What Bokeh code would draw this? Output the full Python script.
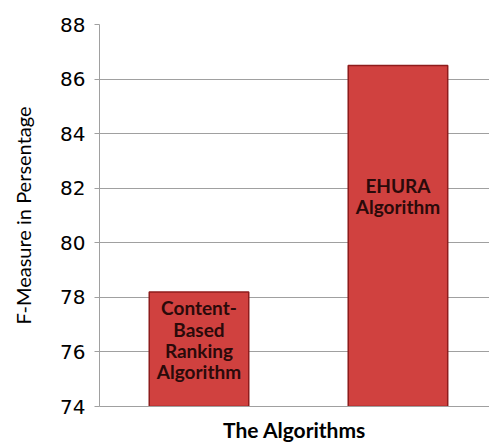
from bokeh.plotting import figure
from bokeh.models import Range1d, FixedTicker, ColumnDataSource
from bokeh.core.properties import value
from bokeh.embed import file_html
from bokeh.resources import INLINE
import numpy as np

categories = ["Content-Based Ranking Algorithm", "EHURA Algorithm"]
bar_labels = ["Content-\nBased\nRanking\nAlgorithm", "EHURA\nAlgorithm"]
f_measure = [78.2, 86.5]
label_y = [76.45, 81.7]
y_ticks = [74, 76, 78, 80, 82, 84, 86, 88]

x_pos = np.arange(len(categories)) + 0.5

src = ColumnDataSource(dict(x=x_pos, top=f_measure, cat=categories,
                            lab=bar_labels, ly=label_y))

p = figure(width=489, height=444, output_backend="svg", toolbar_location=None,
           x_range=Range1d(0.0, 1.96), y_range=Range1d(74, 88),
           min_border_left=99, min_border_top=24, min_border_right=0,
           min_border_bottom=36)
p.outline_line_color = None
p.background_fill_color = "white"

p.vbar(x="x", top="top", bottom=74, width=0.5, source=src,
       fill_color="#D0413F", line_color="#8E1C1C", line_width=1.5)

p.text(x="x", y="ly", text="lab", source=src, text_align="center",
       text_baseline="middle", text_font=value("Lato"), text_font_style="bold",
       text_font_size="19px", text_color="#2a0a0a", text_line_height=0.92)

p.yaxis.ticker = FixedTicker(ticks=y_ticks)
p.yaxis.major_tick_in = 0
p.yaxis.major_tick_out = 5
p.yaxis.minor_tick_line_color = None
p.yaxis.axis_line_color = "#A0A0A0"
p.yaxis.major_tick_line_color = "#A0A0A0"
p.yaxis.major_label_text_font = "DejaVu Sans"
p.yaxis.major_label_text_font_size = "20px"
p.yaxis.major_label_text_color = "black"
p.yaxis.major_label_standoff = 9
p.yaxis.axis_label = "F-Measure in Persentage"
p.yaxis.axis_label_text_font = "Lato"
p.yaxis.axis_label_text_font_style = "normal"
p.yaxis.axis_label_text_font_size = "20px"
p.yaxis.axis_label_text_color = "black"
p.yaxis.axis_label_standoff = 22

p.xaxis.ticker = FixedTicker(ticks=[])
p.xaxis.axis_line_color = "#A0A0A0"
p.xaxis.major_tick_line_color = None
p.xaxis.minor_tick_line_color = None
p.xaxis.major_label_text_font_size = "0px"
p.xaxis.axis_label = "The Algorithms"
p.xaxis.axis_label_text_font = "Lato"
p.xaxis.axis_label_text_font_style = "bold"
p.xaxis.axis_label_text_font_size = "21px"
p.xaxis.axis_label_text_color = "black"
p.xaxis.axis_label_standoff = 10

p.xgrid.grid_line_color = None
p.ygrid.grid_line_color = "#A0A0A0"
p.ygrid.grid_line_width = 1

open("out.html", "w").write(file_html(p, INLINE))
